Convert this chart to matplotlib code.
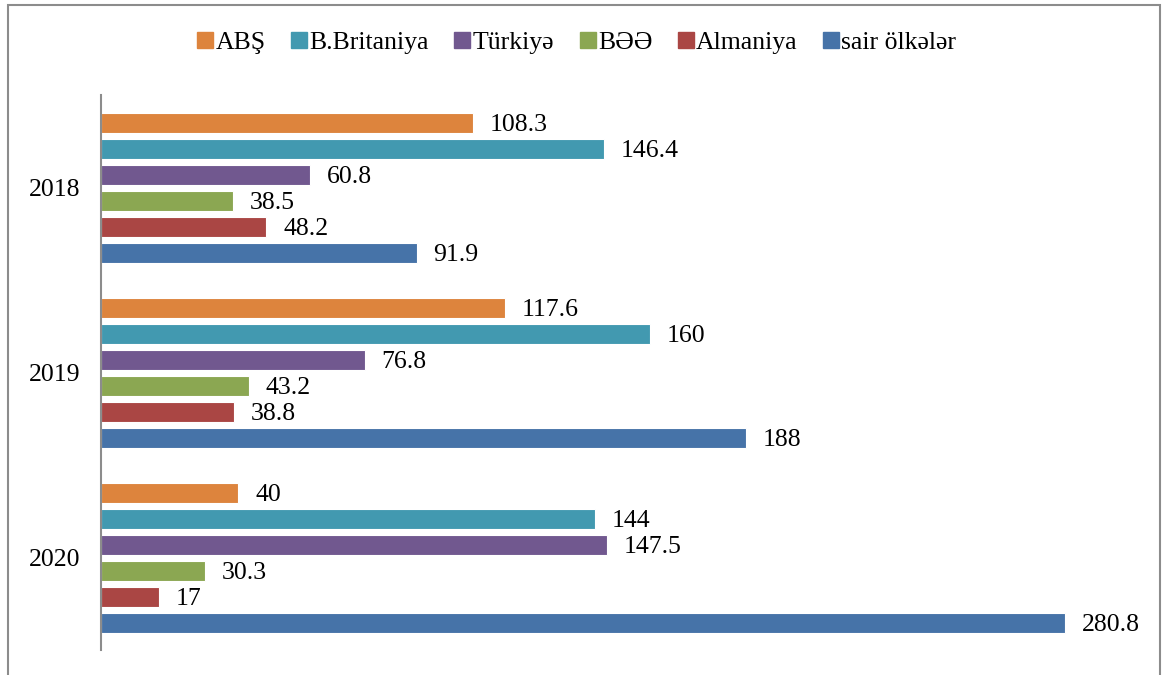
import matplotlib
matplotlib.use('Agg')
import matplotlib.pyplot as plt
from matplotlib.patches import Rectangle
from matplotlib.lines import Line2D
import numpy as np

years = ['2018', '2019', '2020']
countries = ['ABŞ', 'B.Britaniya', 'Türkiyə', 'BƏƏ', 'Almaniya', 'sair ölkələr']
abs_vals = [108.3, 117.6, 40]
britain = [146.4, 160, 144]
turkey = [60.8, 76.8, 147.5]
uae = [38.5, 43.2, 30.3]
germany = [48.2, 38.8, 17]
others = [91.9, 188, 280.8]
labels = [['108.3', '117.6', '40'], ['146.4', '160', '144'], ['60.8', '76.8', '147.5'],
          ['38.5', '43.2', '30.3'], ['48.2', '38.8', '17'], ['91.9', '188', '280.8']]

colors = ['#DD843D', '#4299B0', '#71588F', '#8BA752', '#AA4644', '#4673A8']

plt.rcParams['font.family'] = ['Liberation Serif', 'DejaVu Serif']
FS = 18.5

fig = plt.figure(figsize=(11.63, 6.75), dpi=100)
ax = fig.add_axes([101 / 1163, 1 - 650 / 675, 1030 / 1163, 555 / 675])

series = [abs_vals, britain, turkey, uae, germany, others]
pitch = 26 / 185
height = 20 / 185
y0 = np.arange(len(years))
for i, (vals, col) in enumerate(zip(series, colors)):
    ypos = y0 + (i - 2.5) * pitch
    ax.barh(ypos, vals, height=height, color=col, edgecolor='white', linewidth=0.8)
    for y, v, lab in zip(ypos, vals, labels[i]):
        ax.annotate(lab, (v, y), xytext=(12, -1.5), textcoords='offset points',
                    ha='left', va='center', fontsize=FS)

ax.set_xlim(0, 300)
ax.set_ylim(-0.5, 2.5)
ax.invert_yaxis()
ax.set_yticks(y0)
ax.set_yticklabels(years, fontsize=FS)
ax.tick_params(axis='y', length=0, pad=15)
ax.set_xticks([])
for s in ['top', 'right', 'bottom']:
    ax.spines[s].set_visible(False)
ax.spines['left'].set_color('#8c8c8c')
ax.spines['left'].set_linewidth(1.5)

# legend across the top, square markers like the spreadsheet legend
handles = [Line2D([], [], marker='s', linestyle='none', markersize=11,
                  markerfacecolor=c, markeredgecolor=c) for c in colors]
fig.legend(handles, countries, loc='center', bbox_to_anchor=(577 / 1163, 1 - 43 / 675),
           ncol=6, frameon=False, fontsize=FS, handletextpad=0.1, columnspacing=1.0,
           handlelength=0.6)

# outer chart border
fig.patches.append(Rectangle((8 / 1163, -0.1), 1152 / 1163, 1.1 - 5 / 675,
                             transform=fig.transFigure, fill=False,
                             edgecolor='#8c8c8c', linewidth=1.5))

fig.savefig('out.png', dpi=100)
